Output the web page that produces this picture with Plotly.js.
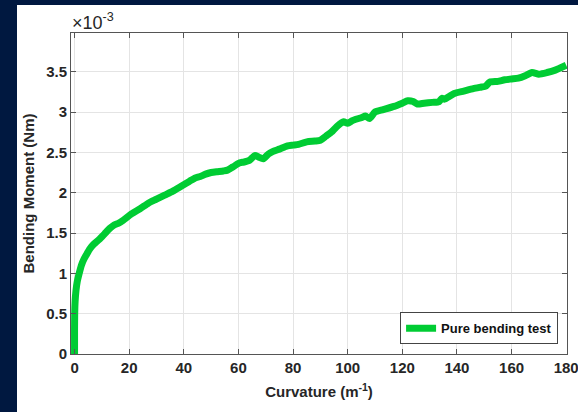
<!DOCTYPE html>
<html>
<head>
<meta charset="utf-8">
<script src="https://cdn.plot.ly/plotly-3.0.1.min.js"></script>
<style>
html,body{margin:0;padding:0;background:#001840;width:578px;height:412px;overflow:hidden;}
#chart{position:absolute;left:17px;top:5px;width:561px;height:407px;}
</style>
</head>
<body>
<div id="chart"></div>
<script>
// Curvature (1/m)
const curvature = [0,0,0.05,0.2,0.5, 1,1.7,2.5,3.5,4.5, 5.5,7,9,11,13, 14.5,16,17.5,19,21,
  24,27,30,33,36, 39.5,42,44,46,48, 50,52,54.5,56,58, 60.5,62,64,66,67.5,
  69,71,72.5,75,78, 80,82,85,88,90, 92,94,96,98.5,100, 101.5,103,105,106.5,108,
  110,113,117,120,122, 124,125.5,128,131,133.5, 134.5,135.5,137,139,142.5,
  146,149,150.5,152,155, 157.5,160,162.5,165,167.5, 170,173,176,178,180];
// Bending moment (x10^-3 Nm)
const moment = [0,0.3,0.5,0.65,0.78, 0.9,1.0,1.1,1.18,1.24, 1.3,1.36,1.42,1.49,1.56, 1.6,1.62,1.65,1.69,1.74,
  1.8,1.87,1.92,1.97,2.02, 2.09,2.14,2.18,2.2,2.23, 2.25,2.26,2.27,2.28,2.32, 2.37,2.38,2.40,2.46,2.44,
  2.42,2.48,2.51,2.54,2.58, 2.59,2.60,2.63,2.64,2.65, 2.70,2.75,2.82,2.88,2.86, 2.89,2.91,2.93,2.95,2.92,
  3.00,3.03,3.07,3.11,3.14, 3.13,3.10,3.11,3.12,3.13, 3.17,3.16,3.19,3.23,3.26,
  3.29,3.31,3.32,3.37,3.38, 3.40,3.41,3.42,3.45,3.49, 3.47,3.49,3.52,3.55,3.58];
const xTicks = [0,20,40,60,80,100,120,140,160,180];
const yTicks = [0,0.5,1,1.5,2,2.5,3,3.5];
const yTickLabels = ['0','0.5','1','1.5','2','2.5','3','3.5'];
const seriesName = 'Pure bending test';

const F = '"Liberation Sans", Arial, Helvetica, sans-serif';
const axisCommon = {
  showline:true, mirror:'ticks', linecolor:'#555', linewidth:1,
  ticks:'inside', ticklen:5, tickcolor:'#555', tickwidth:1,
  showgrid:true, gridcolor:'#e4e4e4', gridwidth:1, zeroline:false,
  ticklabeloverflow:'allow',
  tickfont:{family:F, size:15, color:'#262626', weight:'bold'}
};
const trace = {
  x: curvature, y: moment, type:'scatter', mode:'lines', name: seriesName,
  line:{color:'#00cc33', width:7, shape:'spline', smoothing:0.6}
};
const layout = {
  width:561, height:407,
  margin:{l:54, r:11, t:28, b:58},
  paper_bgcolor:'#ffffff', plot_bgcolor:'#ffffff',
  showlegend:true,
  legend:{x:0.982, xanchor:'right', y:0.03, yanchor:'bottom',
    bgcolor:'#ffffff', bordercolor:'#444', borderwidth:1,
    itemwidth:30, tracegroupgap:0,
    font:{family:F, size:13, color:'#111', weight:'bold'}},
  xaxis: Object.assign({}, axisCommon, {
    range:[-1.3,180.3], tickvals:xTicks, ticktext:xTicks.map(String),
    title:{text:'Curvature (m<sup>-1</sup>)', font:{family:F, size:15, color:'#262626', weight:'bold'}, standoff:11}
  }),
  yaxis: Object.assign({}, axisCommon, {
    range:[0,3.98], tickvals:yTicks, ticktext:yTickLabels,
    title:{text:'Bending Moment (Nm)', font:{family:F, size:15, color:'#262626', weight:'bold'}, standoff:7}
  }),
  annotations:[{
    xref:'paper', yref:'paper', x:0, y:1, xanchor:'left', yanchor:'bottom',
    text:'\u00d710<sup>-3</sup>', showarrow:false, xshift:-1, yshift:-2,
    font:{family:F, size:18, color:'#262626'}
  }]
};
Plotly.newPlot('chart', [trace], layout, {displayModeBar:false, staticPlot:true});
</script>
</body>
</html>
